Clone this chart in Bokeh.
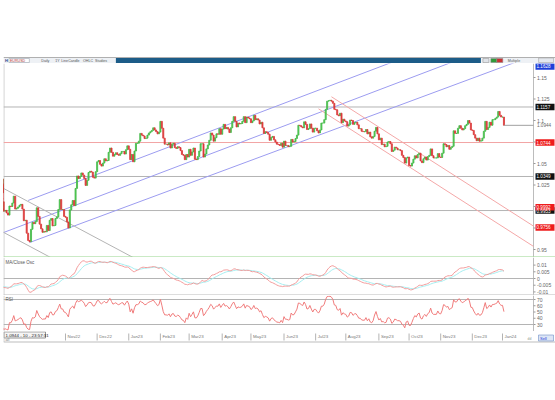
import numpy as np
import pandas as pd
from bokeh.plotting import figure
from bokeh.layouts import column
from bokeh.models import Range1d
from bokeh.embed import file_html
from bokeh.resources import INLINE
from bokeh.core.properties import value

FONT = "Liberation Sans"

# ---------------- data: EURUSD daily closes ----------------
first_session = "2022-08-01"      # first bar (warm-up for indicators, left of view)
view_first_session = "2022-09-01"  # first bar shown
close = [
    # Aug 2022
    1.0260, 1.0165, 1.0165, 1.0245, 1.0180, 1.0195, 1.0210, 1.0300, 1.0320, 1.0260,
    1.0160, 1.0170, 1.0180, 1.0090, 1.0040, 0.9945, 0.9970, 0.9970, 0.9970, 0.9965,
    1.0005, 1.0020, 1.0055,
    # Sep 2022
    0.9945, 0.9955, 0.9925, 0.9900, 1.0005, 1.0000, 1.0040, 1.0120, 0.9970, 0.9980,
    0.9995, 1.0015, 1.0025, 0.9970, 0.9835, 0.9840, 0.9690, 0.9605, 0.9590, 0.9735,
    0.9815, 0.9800,
    # Oct 2022
    0.9825, 0.9985, 0.9885, 0.9795, 0.9740, 0.9700, 0.9710, 0.9705, 0.9780, 0.9720,
    0.9840, 0.9860, 0.9775, 0.9780, 0.9860, 0.9880, 0.9965, 1.0080, 0.9965, 0.9965,
    0.9885,
    # Nov 2022
    0.9875, 0.9820, 0.9750, 0.9960, 1.0020, 1.0070, 1.0010, 1.0210, 1.0355, 1.0325,
    1.0350, 1.0390, 1.0365, 1.0325, 1.0245, 1.0305, 1.0395, 1.0410, 1.0400, 1.0340,
    1.0330, 1.0405,
    # Dec 2022
    1.0520, 1.0535, 1.0490, 1.0470, 1.0505, 1.0555, 1.0530, 1.0535, 1.0630, 1.0680,
    1.0630, 1.0585, 1.0605, 1.0625, 1.0605, 1.0595, 1.0615, 1.0640, 1.0640, 1.0610,
    1.0660, 1.0705,
    # Jan 2023
    1.0665, 1.0545, 1.0605, 1.0520, 1.0645, 1.0735, 1.0735, 1.0760, 1.0850, 1.0830,
    1.0820, 1.0790, 1.0795, 1.0830, 1.0855, 1.0870, 1.0885, 1.0915, 1.0890, 1.0870,
    1.0845, 1.0865,
    # Feb 2023
    1.0990, 1.0910, 1.0795, 1.0725, 1.0725, 1.0715, 1.0740, 1.0680, 1.0725, 1.0735,
    1.0685, 1.0675, 1.0695, 1.0685, 1.0650, 1.0605, 1.0595, 1.0545, 1.0605, 1.0575,
    # Mar 2023
    1.0665, 1.0595, 1.0635, 1.0680, 1.0550, 1.0545, 1.0580, 1.0645, 1.0730, 1.0730,
    1.0575, 1.0610, 1.0670, 1.0715, 1.0770, 1.0855, 1.0830, 1.0760, 1.0800, 1.0845,
    1.0840, 1.0905, 1.0840,
    # Apr 2023
    1.0900, 1.0955, 1.0905, 1.0920, 1.0900, 1.0860, 1.0915, 1.0990, 1.1045, 1.0990,
    1.0925, 1.0970, 1.0960, 1.0965, 1.0990, 1.1045, 1.0975, 1.1040, 1.1030, 1.1020,
    # May 2023
    1.0975, 1.0995, 1.1060, 1.1010, 1.1020, 1.1005, 1.0960, 1.0980, 1.0915, 1.0850,
    1.0870, 1.0860, 1.0840, 1.0770, 1.0805, 1.0815, 1.0775, 1.0750, 1.0725, 1.0720,
    1.0710, 1.0735, 1.0690,
    # Jun 2023
    1.0760, 1.0710, 1.0710, 1.0695, 1.0700, 1.0780, 1.0750, 1.0755, 1.0790, 1.0830,
    1.0945, 1.0940, 1.0925, 1.0915, 1.0985, 1.0955, 1.0895, 1.0905, 1.0960, 1.0910,
    1.0865, 1.0910,
    # Jul 2023
    1.0910, 1.0880, 1.0855, 1.0890, 1.0970, 1.0970, 1.1010, 1.1130, 1.1225, 1.1230,
    1.1235, 1.1225, 1.1200, 1.1130, 1.1125, 1.1065, 1.1055, 1.1085, 1.0975, 1.1015,
    1.0995,
    # Aug 2023
    1.0985, 1.0935, 1.0950, 1.1005, 1.1000, 1.0955, 1.0975, 1.0980, 1.0950, 1.0905,
    1.0905, 1.0875, 1.0870, 1.0870, 1.0895, 1.0845, 1.0865, 1.0810, 1.0795, 1.0815,
    1.0875, 1.0920, 1.0845,
    # Sep 2023
    1.0775, 1.0795, 1.0720, 1.0725, 1.0695, 1.0700, 1.0750, 1.0755, 1.0730, 1.0640,
    1.0655, 1.0690, 1.0680, 1.0660, 1.0660, 1.0650, 1.0595, 1.0570, 1.0505, 1.0565,
    1.0575,
    # Oct 2023
    1.0475, 1.0470, 1.0505, 1.0550, 1.0590, 1.0565, 1.0605, 1.0620, 1.0530, 1.0510,
    1.0555, 1.0575, 1.0540, 1.0580, 1.0595, 1.0670, 1.0590, 1.0565, 1.0565, 1.0565,
    1.0615, 1.0575,
    # Nov 2023
    1.0570, 1.0620, 1.0730, 1.0720, 1.0695, 1.0710, 1.0665, 1.0685, 1.0700, 1.0880,
    1.0850, 1.0850, 1.0910, 1.0940, 1.0910, 1.0890, 1.0905, 1.0940, 1.0955, 1.1000,
    1.0970, 1.0890,
    # Dec 2023
    1.0885, 1.0835, 1.0795, 1.0765, 1.0795, 1.0760, 1.0765, 1.0795, 1.0875, 1.0990,
    1.0895, 1.0920, 1.0980, 1.0945, 1.1010, 1.1010, 1.1025, 1.1040, 1.1105, 1.1060,
    1.1040,
    # Jan 2024
    1.1040, 1.0944,
]

# horizontal levels drawn on the price panel
gray_levels = [1.1157, 1.0349, 0.9953]
red_levels = [1.0744]

# trend lines: start anchor -> second anchor, extended to the price axis
blue_start_dates = ["2022-09-26", "2022-09-01", "2022-09-27"]
blue_start_prices = [1.0070, 0.9698, 0.9581]
blue_end_dates = ["2024-01-02", "2024-01-02", "2024-01-02"]
blue_end_prices = [1.2172, 1.1908, 1.1628]

red_start_dates = ["2023-07-18", "2023-07-05"]
red_start_prices = [1.1276, 1.1136]
red_end_dates = ["2024-01-02", "2024-01-02"]
red_end_prices = [0.9992, 0.9756]

gray_start_dates = ["2022-08-01", "2022-08-01"]
gray_start_prices = [1.0414, 0.9903]
gray_end_dates = ["2022-11-01", "2022-11-01"]
gray_end_prices = [0.9826, 0.9315]

price_ticks = [0.95, 0.975, 1.0, 1.025, 1.05, 1.075, 1.1, 1.125, 1.15]
price_tick_labels = ["0.95", "0.975", "1.0", "1.025", "1.05", "1.075", "1.1", "1.125", "1.15"]
osc_ticks = [-0.01, -0.005, 0.0, 0.005, 0.01]
osc_tick_labels = ["-0.01", "-0.005", "0", "0.005", "0.01"]
rsi_ticks = [30, 40, 50, 60, 70]
rsi_tick_labels = ["30", "40", "50", "60", "70"]
rsi_levels = [30, 70]

toolbar_items = ["Daily", "1Y", "Line", "Candle", "OHLC", "Studies"]
symbol = "EURUSD"

# ---------------- derived series ----------------
dates = pd.bdate_range(first_session, periods=len(close))
idx = np.arange(len(close))
c = np.array(close)
o = np.r_[c[0], c[:-1]]
s = pd.Series(c)
ema12 = s.ewm(span=12, adjust=False).mean()
ema26 = s.ewm(span=26, adjust=False).mean()
macd = (ema12 - ema26).values
signal = (ema12 - ema26).ewm(span=9, adjust=False).mean().values
dlt = s.diff()
ag = dlt.clip(lower=0).ewm(alpha=1 / 14, adjust=False).mean()
al = (-dlt.clip(upper=0)).ewm(alpha=1 / 14, adjust=False).mean()
rsi = (100 - 100 / (1 + ag / al)).values


def pos(d):
    return int(dates.get_loc(pd.Timestamp(d)))


# ---------------- geometry ----------------
W = 555
LB = 3            # left border in px
FRAME_W = W - LB  # frame includes price-axis strip
PPB = 1.4375      # px per bar


def bars(px):
    return px / PPB


i0 = pos(view_first_session)
x_start = i0 - 0.14
xr = Range1d(x_start, x_start + bars(FRAME_W))
i_axis = x_start + bars(530)
GRAY_TXT = "#666666"
LINE_GRAY = "#b4b4b4"


def panel(height, y0, y1, ticks, labels):
    f = figure(width=W, height=height, x_range=xr, y_range=Range1d(y0, y1),
               toolbar_location=None, output_backend="svg",
               x_axis_location=None, y_axis_location=None,
               min_border_left=LB, min_border_right=0, min_border_top=0, min_border_bottom=0)
    f.grid.visible = False
    f.outline_line_color = None
    f.background_fill_color = "white"
    f.border_fill_color = "white"
    f.segment(x0=[x_start + 0.3], x1=[x_start + 0.3], y0=[y0], y1=[y1], line_color="#c4c4c4")
    f.segment(x0=[i_axis], x1=[i_axis], y0=[y0], y1=[y1], line_color="#bcbcbc")
    n = len(ticks)
    f.segment(x0=[i_axis] * n, x1=[i_axis + bars(2)] * n, y0=ticks, y1=ticks, line_color="#999999")
    f.text(x=[i_axis + bars(3.5)] * n, y=ticks, text=labels, text_font=value(FONT),
           text_font_size="5px", text_color=GRAY_TXT, text_baseline="middle", text_align="left")
    return f


# ---------------- header (window toolbar) ----------------
hdr = figure(width=W, height=63, x_range=Range1d(0, W), y_range=Range1d(0, 63),
             toolbar_location=None, output_backend="svg", min_border=0,
             x_axis_location=None, y_axis_location=None)
hdr.grid.visible = False
hdr.outline_line_color = None
hdr.quad(left=[0], right=[W], bottom=[0], top=[6], fill_color="#eef1f5", line_color=None)
hdr.segment(x0=[0], x1=[W], y0=[6], y1=[6], line_color="#b0b0b0", line_width=1)
hdr.text(x=[1.5], y=[3], text=["H"], text_font=value(FONT), text_font_size="4px",
         text_color="#1c3c88", text_baseline="middle", text_font_style="bold")
hdr.quad(left=[5.5], right=[26], bottom=[1], top=[5], fill_color="white", line_color="#9aa4b0",
         line_width=0.6)
hdr.text(x=[6.5], y=[3], text=[symbol], text_font=value(FONT), text_font_size="3.6px",
         text_color="#b03030", text_baseline="middle")
hdr.text(x=[38, 52, 58, 65, 80, 92], y=[3] * 6, text=toolbar_items, text_font=value(FONT),
         text_font_size="3.6px", text_color="#555555", text_baseline="middle")
hdr.quad(left=[113], right=[480], bottom=[0.6], top=[5.4], fill_color="#1c5c88", line_color=None)
hdr.quad(left=[482, 490, 496], right=[488, 496, 502], bottom=[1, 1, 1], top=[5, 5, 5],
         fill_color=["#dfe3e8", "#2f9a3a", "#c83232"], line_color="#8a8a8a", line_width=0.5)
hdr.text(x=[507], y=[3], text=["Multiple"], text_font=value(FONT), text_font_size="3.6px",
         text_color="#555555", text_baseline="middle")
hdr.quad(left=[538], right=[553], bottom=[1], top=[5.5], fill_color="#e4e8ee",
         line_color="#9a9a9a", line_width=0.5)

# ---------------- price panel ----------------
p_lo, p_hi = 0.9407, 1.16628
PX = (p_hi - p_lo) / 194.0   # price per px
p = panel(194, p_lo, p_hi, price_ticks, price_tick_labels)

for lv in gray_levels:
    p.segment(x0=[x_start], x1=[i_axis], y0=[lv], y1=[lv], line_color=LINE_GRAY, line_width=1)
for lv in red_levels:
    p.segment(x0=[x_start], x1=[i_axis], y0=[lv], y1=[lv], line_color="#f2a4a4", line_width=1)


def trend(d0, p0, d1, p1):
    x0, x1 = pos(d0), pos(d1)
    k = (p1 - p0) / (x1 - x0)
    return [x0, i_axis], [p0, p0 + k * (i_axis - x0)], (p0 + k * (idx[-1] - x0))


blue_last = []
for a, b, cc, d in zip(blue_start_dates, blue_start_prices, blue_end_dates, blue_end_prices):
    xs, ys, last = trend(a, b, cc, d)
    blue_last.append(last)
    p.line(xs, ys, line_color="#9c9cf0", line_width=1)
red_last = []
for a, b, cc, d in zip(red_start_dates, red_start_prices, red_end_dates, red_end_prices):
    xs, ys, last = trend(a, b, cc, d)
    red_last.append(last)
    p.line(xs, ys, line_color="#f4a8a8", line_width=1)
for a, b, cc, d in zip(gray_start_dates, gray_start_prices, gray_end_dates, gray_end_prices):
    xs, ys, _ = trend(a, b, cc, d)
    p.line(xs, ys, line_color=LINE_GRAY, line_width=1)

up = c >= o
dn = ~up
top = np.maximum(o, c)
bot = np.minimum(o, c)
p.vbar(x=idx[up], width=0.72, top=top[up], bottom=bot[up],
       fill_color="#5ad85a", line_color="#3fb544", line_width=0.8)
p.vbar(x=idx[dn], width=0.72, top=top[dn], bottom=bot[dn],
       fill_color="#e84040", line_color="#d83636", line_width=0.8)

# last price line and label
p.segment(x0=[idx[-1]], x1=[i_axis], y0=[c[-1]], y1=[c[-1]], line_color="#a0a0a0", line_width=1)
p.text(x=[i_axis + bars(3.5)], y=[c[-1]], text=[f"{c[-1]:.4f}"], text_font=value(FONT),
       text_font_size="4.6px", text_color=GRAY_TXT, text_baseline="middle", text_align="left")
# green separator under price panel
p.segment(x0=[xr.start], x1=[xr.end], y0=[p_lo + 0.6 * PX], y1=[p_lo + 0.6 * PX],
          line_color="#a8dca0", line_width=1)

# value boxes on the price axis
box_vals = [blue_last[2]] + gray_levels + red_levels + red_last
box_cols = ["#1f3fd8"] + ["#111111"] * len(gray_levels) + ["#ee1c1c"] * (len(red_levels) + len(red_last))
box_vals = np.array(box_vals)
nb = len(box_vals)
p.quad(left=[i_axis + bars(2)] * nb, right=[i_axis + bars(21)] * nb,
       bottom=box_vals - 3.2 * PX, top=box_vals + 3.2 * PX, fill_color=box_cols, line_color=None)
p.text(x=[i_axis + bars(3)] * nb, y=box_vals, text=[f"{v:.4f}" for v in box_vals],
       text_font=value(FONT), text_font_size="4.6px", text_color="white",
       text_baseline="middle", text_align="left")

# ---------------- oscillator panel ----------------
m_lo, m_hi = -0.01268, 0.01567
MPX = (m_hi - m_lo) / 38.0
m = panel(38, m_lo, m_hi, osc_ticks, osc_tick_labels)
m.segment(x0=[x_start], x1=[i_axis], y0=[0], y1=[0], line_color=LINE_GRAY, line_width=1)
m.segment(x0=[xr.start], x1=[xr.end], y0=[m_lo + 0.6 * MPX], y1=[m_lo + 0.6 * MPX],
          line_color="#c8c8c8", line_width=1)
m.line(idx, signal, line_color="#a4eef0", line_width=1)
m.line(idx, macd, line_color="#f39c9c", line_width=1)
m.text(x=[x_start + bars(2)], y=[m_hi - 2 * MPX], text=["MA/Close Osc"], text_font=value(FONT),
       text_font_size="4.5px", text_color="#555555", text_baseline="top")

# ---------------- RSI panel ----------------
r_lo, r_hi = 18.8, 76.4
RPX = (r_hi - r_lo) / 36.0
r = panel(36, r_lo, r_hi, rsi_ticks, rsi_tick_labels)
for lv in rsi_levels:
    r.segment(x0=[x_start], x1=[i_axis], y0=[lv], y1=[lv], line_color=LINE_GRAY, line_width=1)
r.line(idx, rsi, line_color="#f07c7c", line_width=1)
r.text(x=[x_start + bars(2)], y=[r_hi - 1 * RPX], text=["RSI"], text_font=value(FONT),
       text_font_size="4.5px", text_color="#555555", text_baseline="top")

# ---------------- date strip ----------------
d = figure(width=W, height=14, x_range=xr, y_range=Range1d(0, 14),
           toolbar_location=None, output_backend="svg",
           x_axis_location=None, y_axis_location=None,
           min_border_left=LB, min_border_right=0, min_border_top=0, min_border_bottom=0)
d.grid.visible = False
d.outline_line_color = None
box_right = x_start + bars(42)
new_month = np.r_[True, dates.month[1:] != dates.month[:-1]]
ms_idx = idx[new_month]
ms_lab = np.array(dates[new_month].strftime("%b%y"))
keep = (ms_idx > box_right + 3) & (ms_idx < i_axis)
nk = int(keep.sum())
d.segment(x0=ms_idx[keep], x1=ms_idx[keep], y0=[5] * nk, y1=[12] * nk,
          line_color="#a0a0a0", line_width=0.8)
d.text(x=ms_idx[keep] + bars(2), y=[8.7] * nk, text=list(ms_lab[keep]), text_font=value(FONT),
       text_font_size="4.4px", text_color="#777777", text_baseline="middle", text_align="left")
d.quad(left=[x_start + bars(0.5)], right=[box_right], bottom=[7.5], top=[13.6],
       fill_color="#f5f5f5", line_color="#7a7a7a", line_width=0.8)
d.text(x=[x_start + bars(2)], y=[10.5], text=[f"{c[-1]:.4f} - 10 - 23:57:31"], text_font=value(FONT),
       text_font_size="4.4px", text_color="#222222", text_baseline="middle")
d.text(x=[x_start + bars(2)], y=[5.2], text=["all"], text_font=value(FONT),
       text_font_size="3.8px", text_color="#777777", text_baseline="middle")
d.segment(x0=[xr.start], x1=[xr.end], y0=[3.5], y1=[3.5], line_color="#bdbdbd", line_width=1)
d.segment(x0=[x_start + 0.3], x1=[x_start + 0.3], y0=[3.5], y1=[14], line_color="#c4c4c4")
d.text(x=[i_axis - bars(6)], y=[7], text=["ılıl"], text_font=value(FONT), text_font_size="4px",
       text_color="#777777", text_baseline="middle")
d.quad(left=[i_axis + bars(5)], right=[i_axis + bars(20)], bottom=[4.5], top=[10.5],
       fill_color="#dde6f5", line_color="#6f8fc8", line_width=0.6)
d.text(x=[i_axis + bars(6.5)], y=[7.5], text=["Sell"], text_font=value(FONT), text_font_size="4px",
       text_color="#1f3fd8", text_baseline="middle")

layout = column(hdr, p, m, r, d)
open("out.html", "w").write(file_html(layout, INLINE))
